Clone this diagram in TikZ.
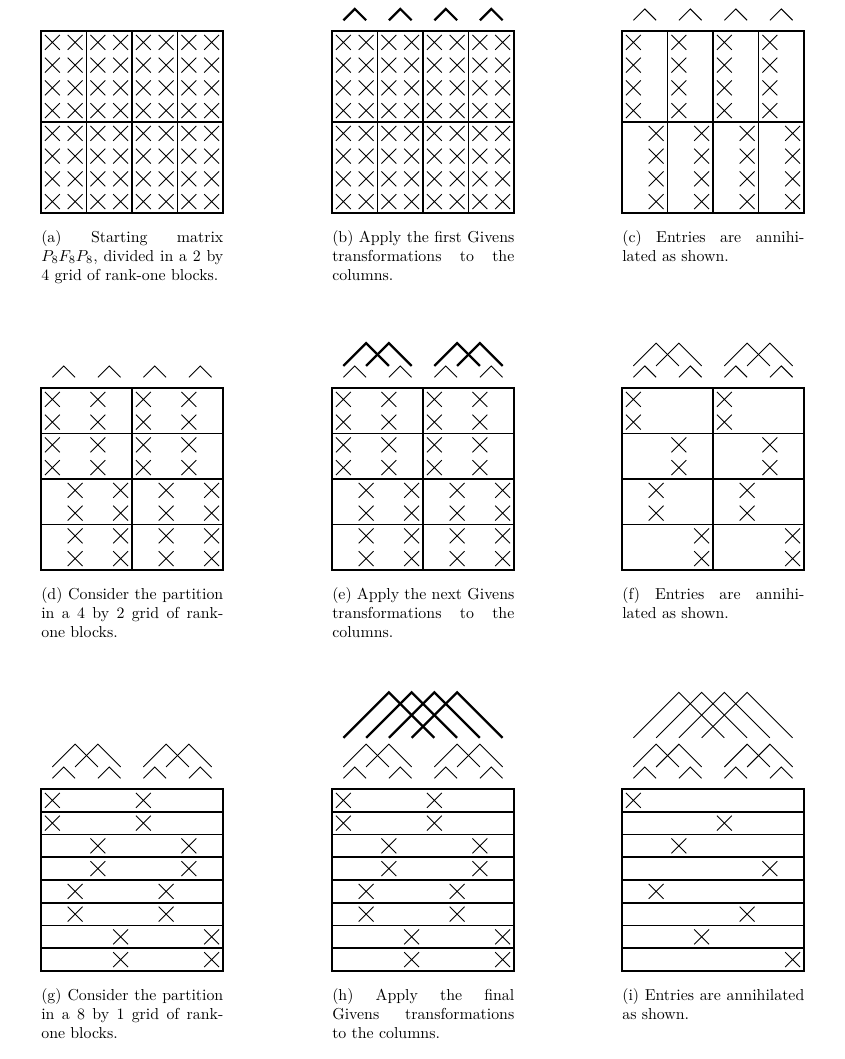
\documentclass[tikz,border=0pt]{standalone}
\usepackage{amsmath}
\tikzset{
  box/.style={line width=1pt},
  xmark/.style={line width=0.6pt},
  hatthin/.style={line width=0.6pt},
  hatthick/.style={line width=1.4pt},
  captext/.style={anchor=base west, text width=114.66pt, align=justify, inner sep=0pt, font=\normalsize},
}
% cell size 22.75 px
\newcommand{\xcell}[4]{%
  \draw[xmark] ({#1+22.75*(#3+0.5)-7.4},{#2+22.75*(#4+0.5)-7.4}) -- ++(14.8,14.8)
               ({#1+22.75*(#3+0.5)-7.4},{#2+22.75*(#4+0.5)+7.4}) -- ++(14.8,-14.8);}
\newcommand{\givhat}[6]{%
  \draw[#6] ({#1+22.75*(#3+0.5)},{#2-22.75*#5}) --
            ({#1+22.75*((#3+#4)/2+0.5)},{#2-22.75*(#5+(#4-#3)/2)}) --
            ({#1+22.75*(#4+0.5)},{#2-22.75*#5});}
\newcommand{\hatsone}[3]{\foreach \a in {0,2,4,6}{\givhat{#1}{#2}{\a}{\a+1}{0.47}{#3}}}
\newcommand{\hatstwo}[3]{\foreach \a in {0,1,4,5}{\givhat{#1}{#2}{\a}{\a+2}{0.97}{#3}}}
\newcommand{\hatsthree}[3]{\foreach \a in {0,1,2,3}{\givhat{#1}{#2}{\a}{\a+4}{2.25}{#3}}}
\newcommand{\gridA}[2]{%
  \draw[box] (#1,#2) rectangle ++(182,182);
  \foreach \k in {2,4,6}{\draw[box] ({#1+22.75*\k},#2) -- ++(0,182);}
  \draw[box] (#1,{#2+91}) -- ++(182,0);}
\newcommand{\gridB}[2]{%
  \draw[box] (#1,#2) rectangle ++(182,182);
  \foreach \k in {2,4,6}{\draw[box] (#1,{#2+22.75*\k}) -- ++(182,0);}
  \draw[box] ({#1+91},#2) -- ++(0,182);}
\newcommand{\gridC}[2]{%
  \draw[box] (#1,#2) rectangle ++(182,182);
  \foreach \k in {1,...,7}{\draw[box] (#1,{#2+22.75*\k}) -- ++(182,0);}}
\newcommand{\fullX}[2]{\foreach \r in {0,...,7}{\foreach \k in {0,...,7}{\xcell{#1}{#2}{\k}{\r}}}}
\newcommand{\halfX}[2]{%
  \foreach \r in {0,...,3}{\foreach \k in {0,2,4,6}{\xcell{#1}{#2}{\k}{\r}}}
  \foreach \r in {4,...,7}{\foreach \k in {1,3,5,7}{\xcell{#1}{#2}{\k}{\r}}}}
\newcommand{\quarterX}[2]{%
  \foreach \r/\k in {0/0,1/0,2/2,3/2,4/1,5/1,6/3,7/3}{\xcell{#1}{#2}{\k}{\r}\xcell{#1}{#2}{\k+4}{\r}}}
\newcommand{\eighthX}[2]{%
  \foreach \r/\k in {0/0,1/4,2/2,3/6,4/1,5/5,6/3,7/7}{\xcell{#1}{#2}{\k}{\r}}}
\begin{document}
\begin{tikzpicture}[x=0.63pt,y=-0.63pt]
\useasboundingbox (0,0) rectangle (844,1059);
% ---------- row 1 ----------
\gridA{41}{31}\fullX{41}{31}
\node[captext] (capa) at (41,242) {(a) Starting matrix\linebreak $P_8F_8P_8$, divided in a 2 by\linebreak 4 grid of rank-one blocks.};
\gridA{332}{31}\fullX{332}{31}\hatsone{332}{31}{hatthick}
\node[captext] (capb) at (332,242) {(b) Apply the first Givens\linebreak transformations to the\linebreak columns.};
\gridA{622}{31}\halfX{622}{31}\hatsone{622}{31}{hatthin}
\node[captext] (capc) at (622,242) {(c) Entries are annihi-\linebreak lated as shown.};
% ---------- row 2 ----------
\gridB{41}{388}\halfX{41}{388}\hatsone{41}{388}{hatthin}
\node[captext] (capd) at (41,599) {(d) Consider the partition\linebreak in a 4 by 2 grid of rank-\linebreak one blocks.};
\gridB{332}{388}\halfX{332}{388}\hatsone{332}{388}{hatthin}\hatstwo{332}{388}{hatthick}
\node[captext] (cape) at (332,599) {(e) Apply the next Givens\linebreak transformations to the\linebreak columns.};
\gridB{622}{388}\quarterX{622}{388}\hatsone{622}{388}{hatthin}\hatstwo{622}{388}{hatthin}
\node[captext] (capf) at (622,599) {(f) Entries are annihi-\linebreak lated as shown.};
% ---------- row 3 ----------
\gridC{41}{789}\quarterX{41}{789}\hatsone{41}{789}{hatthin}\hatstwo{41}{789}{hatthin}
\node[captext] (capg) at (41,1000) {(g) Consider the partition\linebreak in a 8 by 1 grid of rank-\linebreak one blocks.};
\gridC{332}{789}\quarterX{332}{789}\hatsone{332}{789}{hatthin}\hatstwo{332}{789}{hatthin}\hatsthree{332}{789}{hatthick}
\node[captext] (caph) at (332,1000) {(h) Apply the final\linebreak Givens transformations\linebreak to the columns.};
\gridC{622}{789}\eighthX{622}{789}\hatsone{622}{789}{hatthin}\hatstwo{622}{789}{hatthin}\hatsthree{622}{789}{hatthin}
\node[captext] (capi) at (622,1000) {(i) Entries are annihilated\linebreak as shown.};
\end{tikzpicture}
\end{document}
